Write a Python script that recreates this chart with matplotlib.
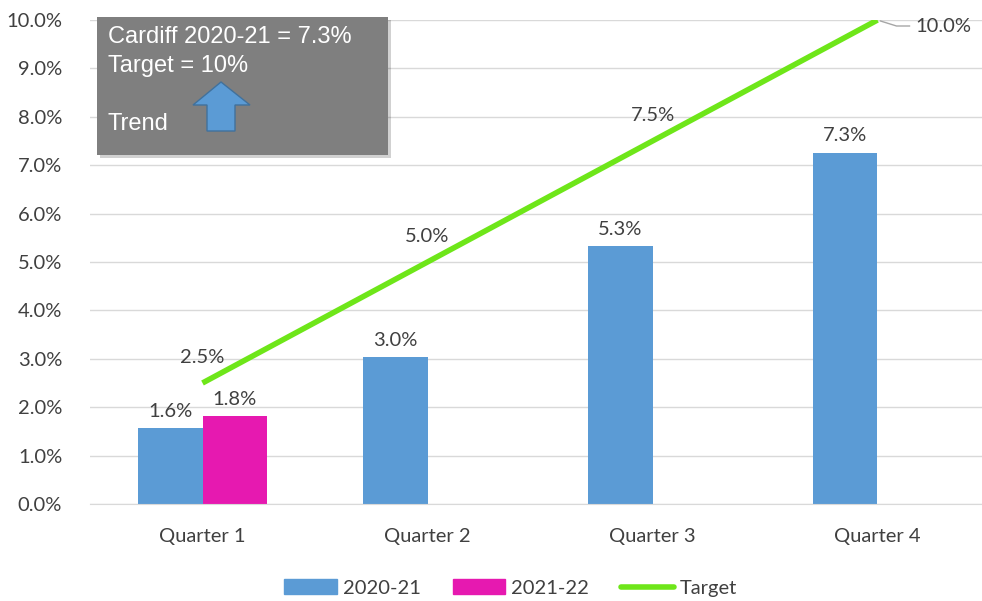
import matplotlib
matplotlib.use("Agg")
import matplotlib.pyplot as plt
import matplotlib.transforms as mtransforms
import numpy as np
from matplotlib.patches import Rectangle, Polygon
from matplotlib.lines import Line2D

quarters = ["Quarter 1", "Quarter 2", "Quarter 3", "Quarter 4"]
vals_2021 = [1.57, 3.04, 5.33, 7.26]
vals_2122 = [1.82, np.nan, np.nan, np.nan]
target = [2.5, 5.0, 7.5, 10.0]

BLUE = "#5b9bd5"
PINK = "#e619b0"
GREEN = "#6ee619"
TXT = "#404040"
FS = 14.5

plt.rcParams['font.family'] = ['Lato', 'DejaVu Sans']

W, H = 982, 601
fig = plt.figure(figsize=(W / 100, H / 100), dpi=100)
ax = fig.add_axes([90 / W, 1 - 504 / H, 900 / W, 484 / H])

x = np.arange(len(quarters))
bw = 0.285
ax.bar(x - bw / 2, vals_2021, bw, color=BLUE, zorder=2)
ax.bar(x + bw / 2, vals_2122, bw, color=PINK, zorder=2)
ax.plot(x, target, color=GREEN, lw=4, solid_capstyle="butt", zorder=3)

ax.set_xlim(-0.5, 3.5)
ax.set_ylim(0, 10)
yt = np.arange(0, 10.1, 1)
ax.set_yticks(yt)
ax.set_yticklabels([f"{t:.1f}%" for t in yt])
ax.set_xticks(x)
ax.set_xticklabels(quarters)
ax.tick_params(length=0, labelsize=FS, labelcolor=TXT)
ax.tick_params(axis="x", pad=17)
ax.tick_params(axis="y", pad=20)
ax.grid(axis="y", color="#d9d9d9", lw=1, zorder=0)
ax.set_axisbelow(True)
for s in ["top", "right", "left"]:
    ax.spines[s].set_visible(False)
ax.spines["bottom"].set_color("#d9d9d9")

for xi, v in zip(x, vals_2021):
    ax.annotate(f"{v:.1f}%", (xi - bw / 2, v), xytext=(0, 6), textcoords="offset points",
                ha="center", va="bottom", fontsize=FS, color=TXT)
for xi, v in zip(x, vals_2122):
    if not np.isnan(v):
        ax.annotate(f"{v:.1f}%", (xi + bw / 2, v), xytext=(0, 6), textcoords="offset points",
                    ha="center", va="bottom", fontsize=FS, color=TXT)
for xi, v in zip(x[:-1], target[:-1]):
    ax.annotate(f"{v:.1f}%", (xi, v), xytext=(0, 12), textcoords="offset points",
                ha="center", va="bottom", fontsize=FS, color=TXT)

# last target label with a small leader line (offsets in pixels)
x3, t3 = x[-1], target[-1]
base = ax.transData.transform((x3, t3))
pts = np.array([[3, -1], [19, -6], [32, -6]])
leader = Line2D(base[0] + pts[:, 0], base[1] + pts[:, 1], color="#a6a6a6", lw=1,
                transform=mtransforms.IdentityTransform(), zorder=4)
fig.add_artist(leader)
ax.annotate(f"{t3:.1f}%", (x3, t3), xytext=(38, -6), textcoords="offset pixels",
            ha="left", va="center", fontsize=FS, color=TXT, annotation_clip=False)

# info box (figure pixel coords)
def fx(px):
    return px / W

def fy(py):
    return 1 - py / H

shadow = Rectangle((fx(100), fy(158)), fx(291), 138 / H, transform=fig.transFigure,
                   facecolor="#000000", alpha=0.18, edgecolor="none", zorder=5)
box = Rectangle((fx(97), fy(155)), fx(291), 138 / H, transform=fig.transFigure,
                facecolor="#7f7f7f", edgecolor="none", zorder=6)
fig.patches.extend([shadow, box])
tkw = dict(transform=fig.transFigure, color="white", fontsize=17,
           family=["Liberation Sans", "DejaVu Sans"], va="center", ha="left", zorder=7)
fig.text(fx(108), fy(37), "Cardiff 2020-21 = 7.3%", **tkw)
fig.text(fx(108), fy(66), "Target = 10%", **tkw)
fig.text(fx(108), fy(124), "Trend", **tkw)

arrow_px = [(221, 82), (250, 105), (235, 105), (235, 131), (207, 131), (207, 105), (193, 105)]
arrow = Polygon([(fx(a), fy(b)) for a, b in arrow_px], closed=True, transform=fig.transFigure,
                facecolor=BLUE, edgecolor="#41719c", lw=1, zorder=7)
fig.patches.append(arrow)

handles = [Rectangle((0, 0), 1, 1, color=BLUE), Rectangle((0, 0), 1, 1, color=PINK),
           Line2D([0], [0], color=GREEN, lw=4, solid_capstyle="round")]
fig.legend(handles, ["2020-21", "2021-22", "Target"], loc="center", bbox_to_anchor=(0.52, 1 - 588 / H),
           ncol=3, frameon=False, fontsize=FS, handlelength=2.6, handleheight=0.7,
           handletextpad=0.3, columnspacing=1.6, labelcolor=TXT)

fig.savefig("out.png", dpi=100)
